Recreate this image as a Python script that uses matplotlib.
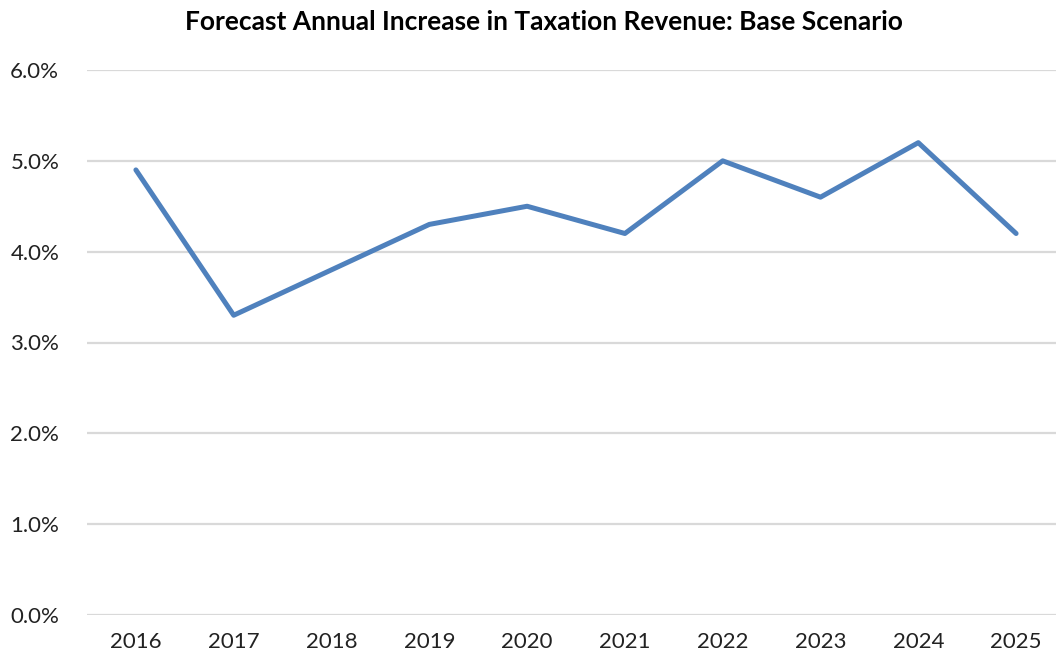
import matplotlib.pyplot as plt
from matplotlib.ticker import FuncFormatter

years = ['2016', '2017', '2018', '2019', '2020', '2021', '2022', '2023', '2024', '2025']
increase = [4.9, 3.3, 3.8, 4.3, 4.5, 4.2, 5.0, 4.6, 5.2, 4.2]

plt.rcParams['font.family'] = ['Lato', 'DejaVu Sans']

fig = plt.figure(figsize=(10.56, 6.58), dpi=100)
ax = fig.add_axes([87 / 1056, 1 - 615 / 658, 978 / 1056, 545 / 658])

ax.plot(range(len(years)), increase, color='#4F81BD', linewidth=3.6,
        solid_joinstyle='round', solid_capstyle='round', zorder=3)

ax.set_xlim(-0.5, len(years) - 0.5)
ax.set_ylim(0, 6)
ax.set_yticks([0, 1, 2, 3, 4, 5, 6])
ax.yaxis.set_major_formatter(FuncFormatter(lambda v, _: f'{v:.1f}%'))
ax.set_xticks(range(len(years)))
ax.set_xticklabels(years)

ax.grid(axis='y', color='#D9D9D9', linewidth=1.6)
ax.set_axisbelow(True)
for s in ax.spines.values():
    s.set_visible(False)
ax.tick_params(length=0, labelsize=16, colors='#222222')
ax.tick_params(axis='y', pad=20)
ax.tick_params(axis='x', pad=12)

fig.text(544 / 1056, 1 - 22 / 658, 'Forecast Annual Increase in Taxation Revenue: Base Scenario',
         ha='center', va='center', fontsize=19, fontweight='bold')

fig.savefig('out.png', dpi=100)
